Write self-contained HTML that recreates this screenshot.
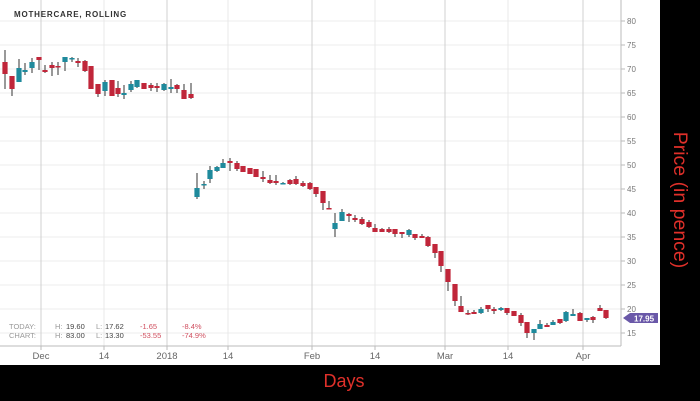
<!DOCTYPE html>
<html><head><meta charset="utf-8"><style>
html,body{margin:0;padding:0;background:#000;}
body{width:700px;height:401px;overflow:hidden;position:relative;font-family:"Liberation Sans",sans-serif;}
svg{position:absolute;left:0;top:0;}
</style></head><body>
<svg id="s" width="700" height="401" xmlns="http://www.w3.org/2000/svg">
<rect x="0" y="0" width="660" height="365" fill="#fff"/>
<g id="grid"></g>
<g id="c"></g>
<line x1="621" y1="0" x2="621" y2="346" stroke="#bbb" stroke-width="1"/>
<line x1="0" y1="346" x2="621" y2="346" stroke="#bbb" stroke-width="1"/>
<g id="lab" font-size="8" fill="#777"></g>
<text x="14" y="17" font-size="8" font-weight="bold" fill="#333" letter-spacing="0.8">MOTHERCARE, ROLLING</text>
<g font-size="7.5" fill="#999">
<text x="9" y="329">TODAY:</text><text x="9" y="338">CHART:</text>
<text x="55" y="329">H:</text><text x="55" y="338">H:</text>
<text x="96" y="329">L:</text><text x="96" y="338">L:</text>
</g>
<g font-size="7.5" fill="#444">
<text x="66" y="329">19.60</text><text x="66" y="338">83.00</text>
<text x="105" y="329">17.62</text><text x="105" y="338">13.30</text>
</g>
<g font-size="7.5" fill="#d05060">
<text x="140" y="329">-1.65</text><text x="140" y="338">-53.55</text>
<text x="182" y="329">-8.4%</text><text x="182" y="338">-74.9%</text>
</g>
<polygon points="623,318 630,313 658,313 658,323 630,323" fill="#6a58a8"/>
<text x="634" y="321.5" font-size="8" font-weight="bold" fill="#fff">17.95</text>
<text x="344" y="387" font-size="18" fill="#e0302a" text-anchor="middle">Days</text>
<text transform="translate(674,200) rotate(90)" font-size="19.5" fill="#e0302a" text-anchor="middle">Price (in pence)</text>
</svg>
<script>
var g=document.getElementById('grid'),lab=document.getElementById('lab'),c=document.getElementById('c');
var NS="http://www.w3.org/2000/svg";
function el(p,t,a){var e=document.createElementNS(NS,t);for(var k in a)e.setAttribute(k,a[k]);p.appendChild(e);return e;}
for(var v=80;v>=15;v-=5){var y=21+(80-v)*4.8;el(g,'line',{x1:0,x2:621,y1:y,y2:y,stroke:'#eee'});
 el(g,'line',{x1:621,x2:625,y1:y,y2:y,stroke:'#bbb'});
 var t=el(lab,'text',{x:627,y:y+3});t.textContent=v;}
var vx=[[41,'Dec',1],[104,'14',0],[167,'2018',1],[228,'14',0],[312,'Feb',1],[375,'14',0],[445,'Mar',1],[508,'14',0],[583,'Apr',1]];
vx.forEach(function(d){el(g,'line',{x1:d[0],x2:d[0],y1:0,y2:346,stroke:d[2]?'#d0d0d0':'#e8e8e8'});
 el(g,'line',{x1:d[0],x2:d[0],y1:346,y2:350,stroke:'#bbb'});
 var t=el(lab,'text',{x:d[0],y:359,'text-anchor':'middle','font-size':'9.5',fill:'#666'});t.textContent=d[1];});
var D=[
[5,'r',62,74,50,89],[12,'r',76,89,76,96],[19,'t',68,82,59,82],[25,'t',70,72,63,75],[32,'t',62,68,58,73],[39,'r',57,60,57,70],
[45,'r',70,72,65,73],[52,'r',65,68,62,76],[58,'r',66,67,62,75],[65,'t',57,62,57,71],[72,'t',58,59,57,62],[78,'r',61,63,58,67],
[85,'r',61,71,60,72],[91,'r',66,89,66,89],[98,'r',84,94,84,97],[105,'t',82,91,80,96],[112,'r',80,96,80,96],[118,'r',88,94,81,97],
[124,'t',93,95,85,99],[131,'t',84,90,81,92],[137,'t',80,87,80,88],[144,'r',83,89,83,89],[151,'r',85,88,83,91],[157,'r',86,88,83,92],
[164,'t',84,90,83,91],[171,'t',87,89,79,93],[177,'r',85,89,84,93],[184,'r',90,99,84,99],[191,'r',94,98,83,99],
[197,'t',188,197,173,199],[204,'t',184,185,181,189],[210,'t',170,179,166,183],[217,'t',167,171,166,172],[223,'t',163,168,159,168],
[230,'r',161,163,158,171],[237,'r',163,169,161,171],[243,'r',166,172,166,172],[250,'r',168,174,168,174],[256,'r',169,177,169,177],
[263,'r',177,179,171,182],[270,'r',180,183,175,184],[276,'r',181,183,175,185],[283,'t',183,184,182,184],[290,'r',180,184,179,185],
[296,'r',179,184,176,185],[303,'r',183,186,181,187],[310,'r',183,189,182,190],[316,'r',187,194,187,197],[323,'r',191,203,191,210],
[329,'r',208,209,201,209],[335,'t',223,229,213,237],[342,'t',212,221,209,221],[349,'r',214,216,213,222],[355,'r',218,220,215,222],
[362,'r',219,224,217,225],[369,'r',222,227,220,228],[375,'r',228,232,224,232],[382,'r',229,232,228,232],[389,'r',229,232,227,233],
[395,'r',229,234,229,237],[402,'r',232,234,232,238],[409,'t',230,235,229,237],[415,'r',234,238,234,240],[422,'r',236,238,234,238],
[428,'r',237,246,236,247],[435,'r',244,253,244,258],[441,'r',251,266,251,272],[448,'r',269,282,269,291],[455,'r',284,301,284,306],
[461,'r',306,312,296,312],[468,'r',313,314,310,315],[474,'r',312,314,310,314],[481,'t',309,313,307,314],[488,'r',305,309,305,312],
[494,'r',309,311,307,314],[501,'t',308,310,307,311],[507,'r',308,313,308,315],[514,'r',311,316,311,316],[521,'r',315,323,313,326],
[527,'r',322,333,322,338],[534,'t',329,333,329,340],[540,'t',324,329,320,329],[547,'r',325,327,323,327],[553,'t',322,325,320,325],
[560,'r',319,323,319,324],[566,'t',312,321,311,322],[573,'t',314,316,309,316],[580,'r',313,321,312,321],[587,'t',318,320,318,322],
[593,'r',317,320,316,323],[600,'r',308,311,305,311],[606,'r',310,318,310,319]];
D.forEach(function(d){var col=d[1]=='r'?'#c0263a':'#1f8a9c';
 el(c,'line',{x1:d[0],x2:d[0],y1:d[4],y2:d[5],stroke:'#555','stroke-width':1.2});
 var h=Math.max(d[3]-d[2],1.5);el(c,'rect',{x:d[0]-2.6,y:d[2],width:5.2,height:h,fill:col});});
</script>
</body></html>
